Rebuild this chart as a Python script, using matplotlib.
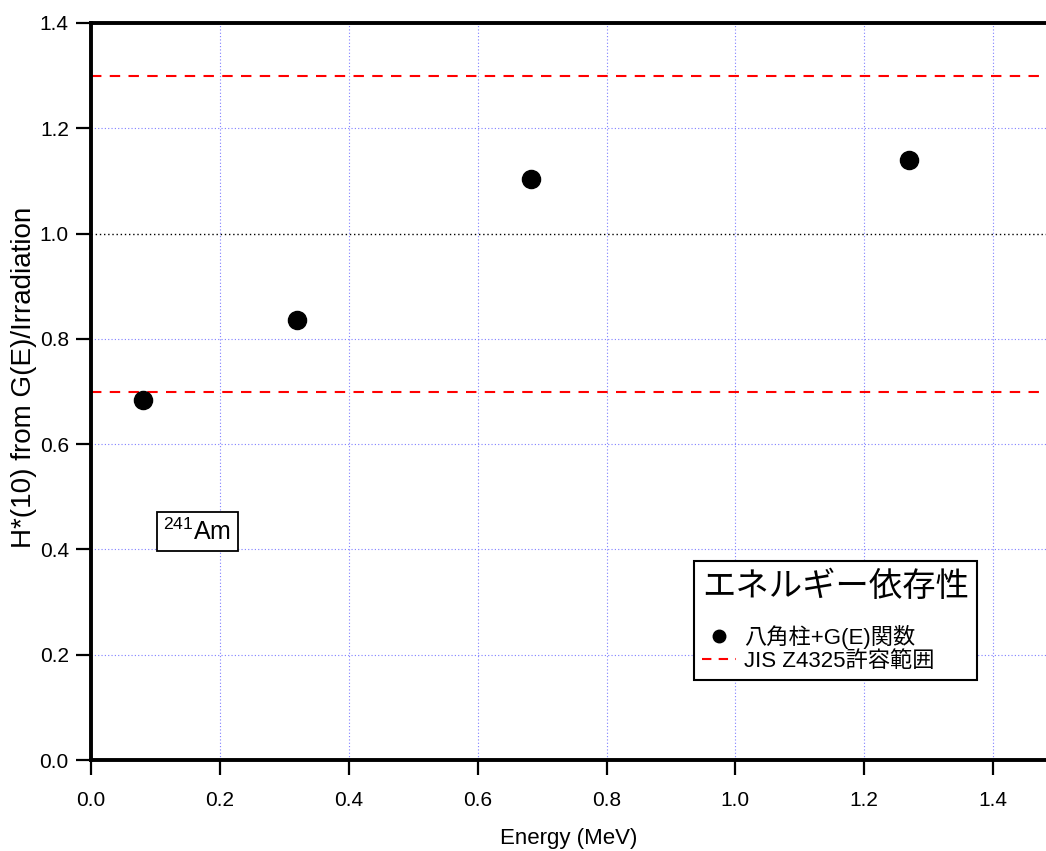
import matplotlib
matplotlib.use("Agg")
import matplotlib.pyplot as plt
from matplotlib.lines import Line2D

plt.rcParams['font.family'] = ['Liberation Sans', 'Noto Sans CJK JP', 'DejaVu Sans']
plt.rcParams['mathtext.fontset'] = 'custom'
plt.rcParams['mathtext.rm'] = 'Liberation Sans'
plt.rcParams['mathtext.it'] = 'Liberation Sans:italic'
plt.rcParams['mathtext.bf'] = 'Liberation Sans:bold'

energy = [0.081, 0.320, 0.683, 1.270]
h10 = [0.684, 0.836, 1.104, 1.140]
jis_limits = [0.7, 1.3]
xticks = [0.0, 0.2, 0.4, 0.6, 0.8, 1.0, 1.2, 1.4]
yticks = [0.0, 0.2, 0.4, 0.6, 0.8, 1.0, 1.2, 1.4]

W, H = 1046, 851
fig = plt.figure(figsize=(W/100, H/100), dpi=100)
ax = fig.add_axes([91/W, (H-760)/H, (W-91)/W, (760-23)/H])
ax.set_xlim(0, 1.482)
ax.set_ylim(0, 1.4)

for x in xticks[1:]:
    ax.axvline(x, color='#7f7fff', lw=0.8, ls=(0, (1, 2)), zorder=1)
for y in yticks[1:]:
    if abs(y - 1.0) < 1e-9:
        ax.axhline(y, color='black', lw=1.0, ls=(0, (1, 2)), zorder=1)
    else:
        ax.axhline(y, color='#7f7fff', lw=0.8, ls=(0, (1, 2)), zorder=1)

for lim in jis_limits:
    ax.axhline(lim, color='#ff0000', lw=1.5, ls=(0, (5, 4)), zorder=2)

ax.scatter(energy, h10, s=170, color='black', zorder=3)

ax.set_xticks(xticks)
ax.set_yticks(yticks)
ax.set_xticklabels([f"{t:.1f}" for t in xticks])
ax.set_yticklabels([f"{t:.1f}" for t in yticks])
ax.tick_params(axis='both', direction='out', length=11, width=1.6, labelsize=15)
ax.tick_params(axis='x', pad=11)
ax.tick_params(axis='y', pad=5)

for s in ['left', 'bottom', 'top']:
    ax.spines[s].set_linewidth(2.8)
ax.spines['right'].set_visible(False)

ax.set_xlabel("Energy (MeV)", fontsize=16, labelpad=13)
ax.set_ylabel("H*(10) from G(E)/Irradiation", fontsize=20, labelpad=2)
ax.yaxis.label.set_y((760 - 377) / (760 - 23))

ax.text(0.112, 0.418, r"$\mathrm{^{241}}$Am", fontsize=18, ha='left', va='baseline',
        bbox=dict(boxstyle='square,pad=0.26', fc='white', ec='black', lw=1.3), zorder=5)

handles = [
    Line2D([], [], marker='o', ls='none', color='black', markersize=9, label='八角柱+G(E)関数'),
    Line2D([], [], color='#ff0000', lw=1.5, ls=(0, (4.5, 3.5)), label='JIS Z4325許容範囲'),
]
leg = ax.legend(handles=handles, title='エネルギー依存性', loc='lower right',
                bbox_to_anchor=(977/W, (H-680)/H), bbox_transform=fig.transFigure,
                borderaxespad=0, alignment='left',
                prop={'family': ['Liberation Sans', 'Noto Sans CJK JP'], 'size': 16},
                title_fontproperties={'family': ['Noto Sans CJK JP'], 'size': 24},
                frameon=True, fancybox=False, edgecolor='black', framealpha=1,
                handlelength=1.5, handletextpad=0.4, labelspacing=0.1, borderpad=0.35)
leg._legend_box.sep = 15
leg.get_frame().set_linewidth(1.5)
leg.set_zorder(6)

fig.savefig("out.png", dpi=100)
